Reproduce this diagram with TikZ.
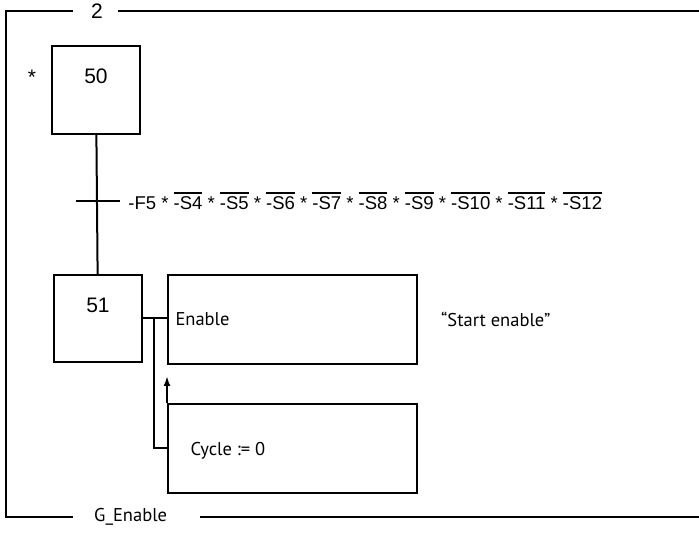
\documentclass[tikz,border=0pt]{standalone}
\usepackage{fontspec}
\setmainfont{Liberation Sans}
\newfontfamily\actfont{PT Sans}
\usetikzlibrary{positioning, arrows.meta}

% negated signal with bar
\newcommand{\nsig}[1]{\begingroup\setbox0\hbox{-#1}\rlap{\rule[\dimexpr\ht0+3pt\relax]{\wd0}{1.3pt}}\box0\endgroup}

\begin{document}
\begin{tikzpicture}[x=1pt, y=1pt,
        stepbox/.style={draw=black, line width=2pt, minimum width=88pt, minimum height=88pt, inner sep=0pt},
        actbox/.style={draw=black, line width=2pt, minimum width=249pt, minimum height=89pt, inner sep=0pt},
        edge/.style={line width=2pt},
        numlabel/.style={anchor=center, yshift=-31pt, font=\fontsize{21}{24}\selectfont},
        acttext/.style={font=\actfont\fontsize{18.5}{21}\selectfont},
        condtext/.style={font=\fontsize{18.5}{21}\selectfont}
    ]

    \useasboundingbox (0,0) rectangle (699,533);

    % Rahmen
    \node[font=\fontsize{21}{24}\selectfont] (title) at (97,522) {2};
    \node[acttext, anchor=west, inner sep=0pt] (grp) at (94,16) {G\_Enable};
    \draw[edge] (73,522) -- (6,522) -- (6,16) -- (73,16);
    \draw[edge] (118,522) -- (699,522);
    \draw[edge] (200,16) -- (699,16);

    % Schritte
    \node[stepbox, label={[numlabel]north:50}] (s50) at (96,443) {};
    \node[font=\fontsize{21}{24}\selectfont] (init) at (32,456) {*};
    \node[stepbox, minimum height=87pt, label={[numlabel]north:51}, below=139pt of s50, xshift=2pt] (s51) {};

    % Transition
    \node[minimum width=44pt, inner sep=0pt] (trans) at (98,332) {};
    \node[condtext, anchor=west, inner sep=0pt, right=8pt of trans.east] (cond)
        {-F5 * \nsig{S4} * \nsig{S5} * \nsig{S6} * \nsig{S7} * \nsig{S8} * \nsig{S9} * \nsig{S10} * \nsig{S11} * \nsig{S12}};

    % Aktionen
    \node[actbox, right=24pt of s51, yshift=-1pt, label={[acttext, anchor=west, xshift=5pt]west:Enable}] (a1) {};
    \node[actbox, below=38pt of a1, label={[acttext, anchor=west, xshift=20pt, yshift=-2pt]west:Cycle := 0}] (a2) {};
    \node[acttext, anchor=west, inner sep=0pt] (cmt) at (441,214) {“Start enable”};

    % Kanten
    \coordinate (brx) at (154,0);
    \draw[edge] (s50) -- (s51);
    \draw[edge] (trans.west) -- (trans.east);
    \draw[edge] (s51.east) -- (s51.east -| a1.west);
    \draw[edge] (s51.east -| brx) |- (a2.west);
    \coordinate[above=27pt of a2.north west] (tip);
    \draw[edge, -{Latex[length=10pt, width=7pt]}] (a2.north west) -- (tip);

\end{tikzpicture}
\end{document}
